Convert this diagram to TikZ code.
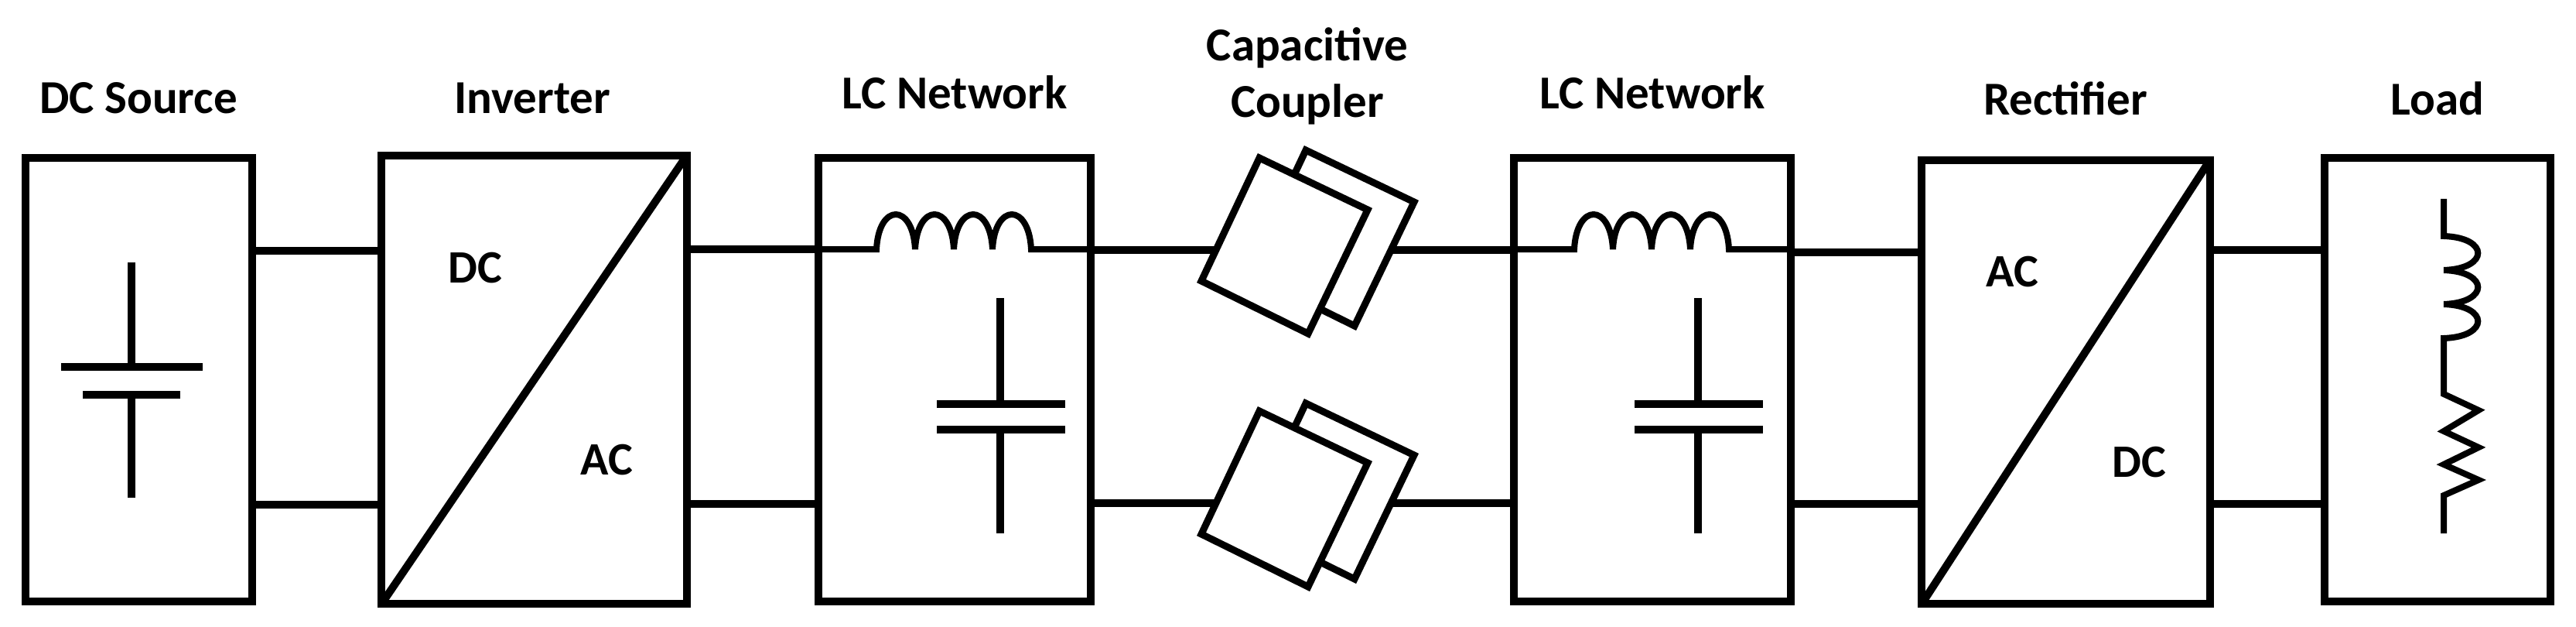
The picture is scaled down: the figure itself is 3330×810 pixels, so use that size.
\documentclass[tikz,border=0pt]{standalone}
\usepackage{fontspec}
\setmainfont{Carlito}
\usetikzlibrary{calc}
\begin{document}
\begin{tikzpicture}[x=1pt,y=-1pt,line width=10pt,
  box/.style={draw,rectangle,inner sep=0pt,line width=10pt},
  ttl/.style={font=\bfseries\fontsize{61}{70}\selectfont,inner sep=0pt},
  lbl/.style={font=\bfseries\fontsize{60}{66}\selectfont,inner sep=0pt},
  plate/.style={draw,fill=white,line width=9pt,line join=miter}]
\useasboundingbox (0,0) rectangle (3330,810);
% boxes
\node[box,minimum width=293pt,minimum height=573pt] (src) at (179.5,490.5) {};
\node[box,minimum width=395pt,minimum height=579pt] (inv) at (690.5,490.5) {};
\node[box,minimum width=352pt,minimum height=573pt] (lc1) at (1234,490.5) {};
\node[box,minimum width=358pt,minimum height=573pt] (lc2) at (2136,490.5) {};
\node[box,minimum width=373pt,minimum height=573pt] (rec) at (2670.5,493.5) {};
\node[box,minimum width=292pt,minimum height=573pt] (load) at (3151,490.5) {};
% titles
\node[ttl] at (179,127) {DC Source};
\node[ttl] at (688,127) {Inverter};
\node[ttl] at (1234,119) {LC Network};
\node[ttl] at (1690,62) {Capacitive};
\node[ttl] at (1690,135) {Coupler};
\node[ttl] at (2136,119) {LC Network};
\node[ttl] at (2670,127) {Rectifier};
\node[ttl] at (3151,127) {Load};
% converter labels
\draw ($(inv.south west)+(6,-6)$) -- ($(inv.north east)+(-6,6)$);
\node[lbl] at (614,346) {DC};
\node[lbl] at (784,594) {AC};
\draw ($(rec.south west)+(6,-6)$) -- ($(rec.north east)+(-6,6)$);
\node[lbl] at (2601,351) {AC};
\node[lbl] at (2765,597) {DC};
% battery
\draw (170,339) -- (170,474);
\draw (79,474) -- (262,474);
\draw (107,510) -- (233,510);
\draw (170,510) -- (170,643);
% wires src-inv
\draw (src.east |- 0,324) -- (inv.west |- 0,324);
\draw (src.east |- 0,652) -- (inv.west |- 0,652);
\draw (inv.east |- 0,322) -- (lc1.west |- 0,322);
\draw (inv.east |- 0,651) -- (lc1.west |- 0,651);
% LC networks
\foreach \b/\s in {lc1/0,lc2/902}{
  \begin{scope}[xshift=\s pt]
  \coordinate (i0) at (1133,322);
  \draw[line width=8pt] (\b.west |- 0,322) -- (i0)
    \foreach \k in {0,1,2,3}{ .. controls (1133+50*\k+3,262) and (1133+50*\k+47,262) .. (1133+50*\k+50,322)}
    -- (\b.east |- 0,322);
  \draw (1293,385) -- (1293,522);
  \draw (1211,522) -- (1377,522);
  \draw (1211,555) -- (1377,555);
  \draw (1293,555) -- (1293,689);
  \end{scope}}
% couplers
\foreach \dy/\n in {0/a,327/b}{
  \begin{scope}[yshift=-\dy pt]
  \draw[plate] (1688,194) -- (1828,261) -- (1751,421) -- (1613,353) -- cycle;
  \draw[plate] (1628,204) -- (1768,271) -- (1691,431) -- (1553,363) -- cycle;
  \coordinate (cl\n) at (1572,323);
  \coordinate (cr\n) at (1798,323);
  \end{scope}}
\draw (lc1.east |- 0,323) -- (cla);
\draw (lc1.east |- 0,650) -- (clb);
\draw (cra) -- (lc2.west |- 0,323);
\draw (crb) -- (lc2.west |- 0,650);
% lc2 - rectifier
\draw (lc2.east |- 0,326) -- (rec.west |- 0,326);
\draw (lc2.east |- 0,651) -- (rec.west |- 0,651);
\draw (rec.east |- 0,323) -- (load.west |- 0,323);
\draw (rec.east |- 0,651) -- (load.west |- 0,651);
% load
\draw[line width=8pt] (3159,257) -- (3159,305)
  \foreach \k in {0,1,2}{ .. controls (3218,305+44*\k+2) and (3218,305+44*\k+42) .. (3159,305+44*\k+44)}
  -- (3159,509) -- (3204,530) -- (3159,557) -- (3204,578) -- (3159,600) -- (3204,620) -- (3159,640) -- (3159,689);
\end{tikzpicture}
\end{document}
